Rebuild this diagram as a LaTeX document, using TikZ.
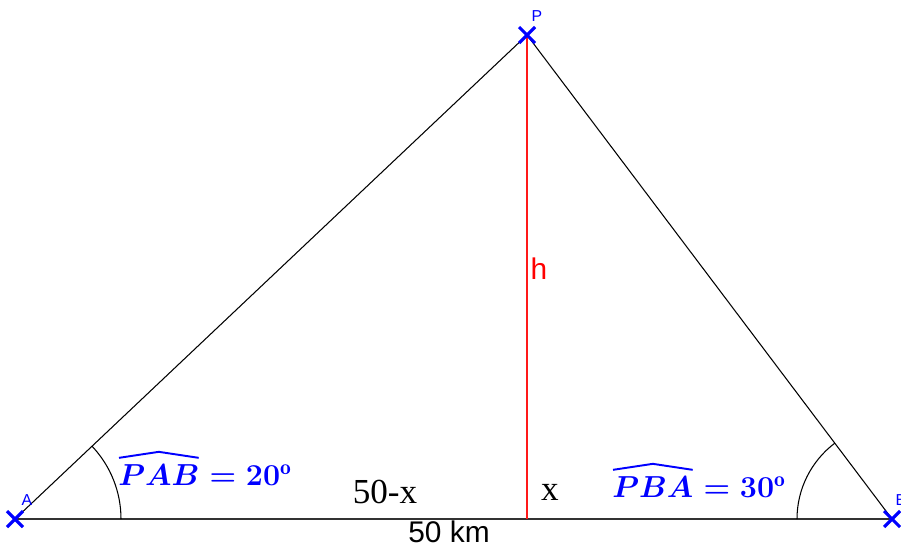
\documentclass[tikz,border=0pt]{standalone}
\usepackage{fontspec}
\setsansfont{Liberation Sans}
\newfontfamily\serifT{Liberation Serif}
\usetikzlibrary{calc}
\begin{document}
\begin{tikzpicture}[x=0.02cm,y=-0.02cm,
  edge/.style={draw=black,line width=0.6pt},
  cross/.style={draw=blue,line width=1.8pt},
  hat/.style={draw=blue,line width=1.1pt},
  ptlabel/.style={text=blue,font=\sffamily\fontsize{9}{10}\selectfont,inner sep=0pt},
  anglab/.style={text=blue,inner sep=0pt,font=\fontsize{17.5}{20}\selectfont\boldmath},
  seglab/.style={inner sep=0pt,font=\serifT\fontsize{20}{22}\selectfont},
  sanslab/.style={inner sep=0pt,font=\sffamily\fontsize{17}{19}\selectfont}]
\useasboundingbox (0,0) rectangle (901,549);
\coordinate (A) at (15,519);
\coordinate (B) at (892,519);
\coordinate (P) at (527,35);
\coordinate (H) at (527,519);
% sides
\draw[edge] (A) -- (P) -- (B);
\draw[edge, line width=0.8pt, draw=black!80] (A) -- (B);
\draw[red!90!white, line width=0.6pt] (P) -- (H);
% angle arcs
\draw[edge] ($(A)+(106,0)$) arc[start angle=0, end angle=-43.4, radius=106];
\draw[edge] ($(B)+(-95,0)$) arc[start angle=180, end angle=233, radius=95];
% crosses
\foreach \c in {A,B,P}{
  \draw[cross] ($(\c)+(-8,-8)$) -- ($(\c)+(8,8)$);
  \draw[cross] ($(\c)+(-8,8)$) -- ($(\c)+(8,-8)$);
}
\node[ptlabel] (lP) at (537,16) {P};
\node[ptlabel] (lA) at (27,500) {A};
\node[ptlabel] (lB) at (901,500) {B};
\node[text=red,sanslab] (lh) at (539,269) {h};
\node[sanslab] (lkm) at (449,532) {50 km};
\node[seglab] (l1) at (385,492) {50-x};
\node[seglab] (l2) at (550,492) {x};
% angle labels
\node[anglab,anchor=base west] (a1) at (118,485) {$PAB$};
\node[anglab,anchor=base west] (e1) at (a1.base east) {${}= 20^{\mathrm{o}}$};
\draw[hat] ($(a1.north west)+(1,-6)$) -- ($(a1.north)+(0,-12)$) -- ($(a1.north east)+(-1,-6)$);
\node[anglab,anchor=base west] (a2) at (612,497) {$PBA$};
\node[anglab,anchor=base west] (e2) at (a2.base east) {${}= 30^{\mathrm{o}}$};
\draw[hat] ($(a2.north west)+(1,-6)$) -- ($(a2.north)+(0,-12)$) -- ($(a2.north east)+(-1,-6)$);
\end{tikzpicture}
\end{document}
